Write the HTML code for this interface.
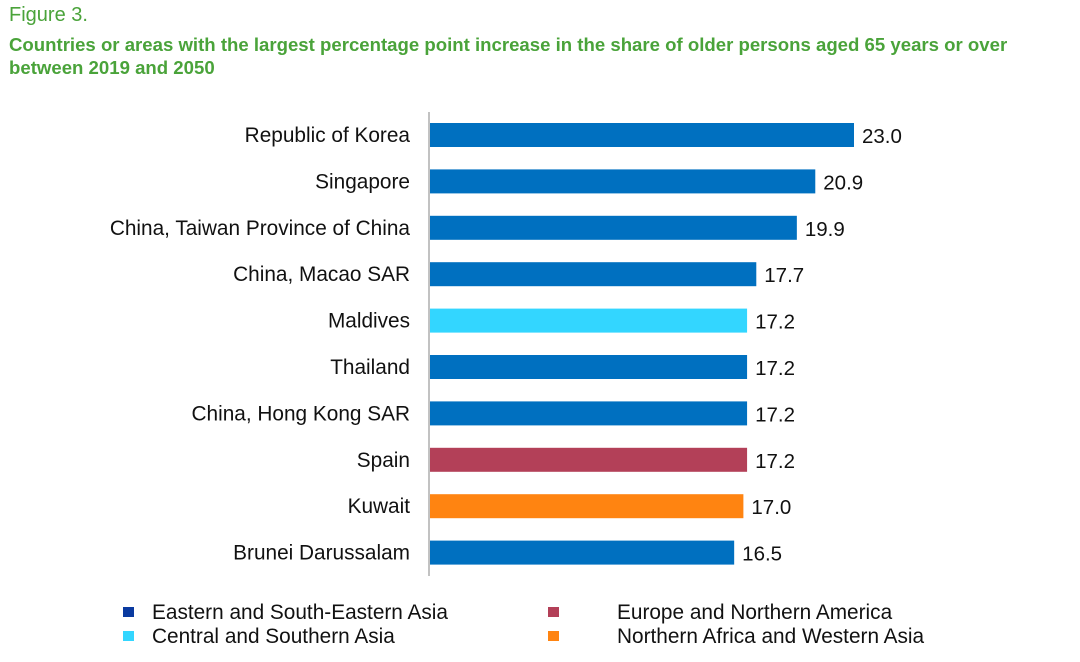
<!DOCTYPE html>
<html><head><meta charset="utf-8"><style>
body{margin:0;background:#fff;width:1080px;height:662px;overflow:hidden;font-family:"Liberation Sans",sans-serif;}
#fig{position:absolute;left:9px;top:4px;color:#4aa33a;font-size:20px;}
#title{position:absolute;left:9px;top:33px;width:1070px;color:#4aa33a;font-size:18.6px;font-weight:bold;line-height:23px;white-space:nowrap;}
</style></head><body>
<div id="fig">Figure 3.</div>
<div id="title">Countries or areas with the largest percentage point increase in the share of older persons aged 65 years or over<br>between 2019 and 2050</div>
<svg id="chart" width="1080" height="662" style="position:absolute;left:0;top:0"></svg>
<script>
const categories=["Republic of Korea","Singapore","China, Taiwan Province of China","China, Macao SAR","Maldives","Thailand","China, Hong Kong SAR","Spain","Kuwait","Brunei Darussalam"];
const values=[23.0,20.9,19.9,17.7,17.2,17.2,17.2,17.2,17.0,16.5];
const regions=[0,0,0,0,1,0,0,2,3,0];
const regionNames=["Eastern and South-Eastern Asia","Central and Southern Asia","Europe and Northern America","Northern Africa and Western Asia"];
const barColors=["#0070c0","#33d6ff","#b34058","#ff8411"];
const legendColors=["#0a3aa0","#33d6ff","#b34058","#ff8411"];
const svg=document.getElementById('chart');
const NS="http://www.w3.org/2000/svg";
const x0=430, pxPerUnit=(854-430)/23.0;
const xs=v=>x0+v*pxPerUnit;
const y0=135, step=46.4;
const ys=i=>y0+i*step;
function mk(t,a){const e=document.createElementNS(NS,t);for(const k in a)e.setAttribute(k,a[k]);svg.appendChild(e);return e;}
const ax=mk('line',{x1:429,x2:429,y1:112,y2:576,stroke:'#999','stroke-width':1.2});


categories.forEach((c,i)=>{
  const y=ys(i);
  const r=mk('rect',{x:x0,y:y-12,width:xs(values[i])-x0,height:24,fill:barColors[regions[i]]});
  
  
  const l=mk('text',{x:410,y:y+7,'text-anchor':'end','font-size':20.8,fill:'#111'});l.textContent=c;
  
  
  const v=mk('text',{x:xs(values[i])+8,y:y+8,'font-size':20.5,fill:'#111'});v.textContent=values[i].toFixed(1);
  
  
});
const legPos=[[123,612,152],[123,636,152],[548,612,617],[548,636,617]];
regionNames.forEach((n,i)=>{
  const p=legPos[i];
  const m=mk('rect',{x:p[0],y:p[1]-5,width:11,height:10,fill:legendColors[i]});
  
  
  const t=mk('text',{x:p[2],y:p[1]+7,'font-size':20.8,fill:'#111'});t.textContent=n;
  
  
});
</script>
</body></html>
